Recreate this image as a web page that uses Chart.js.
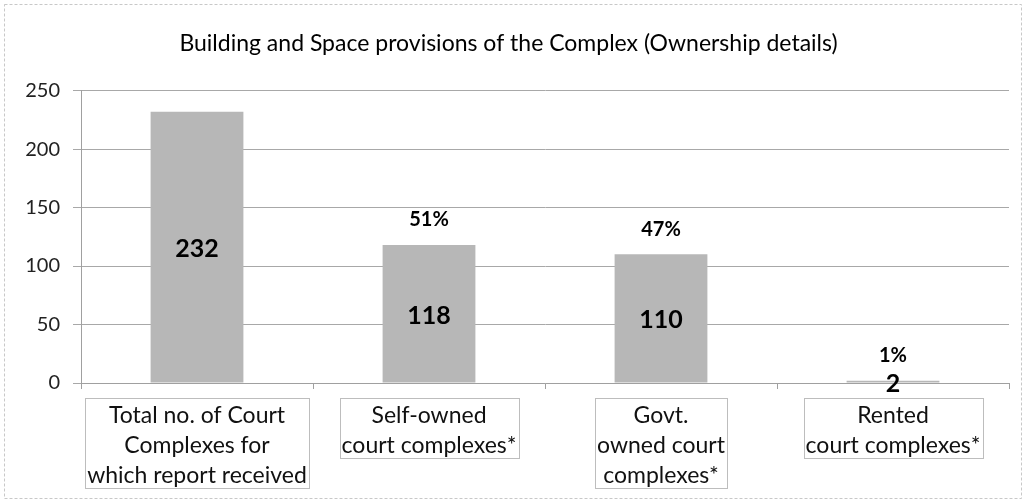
<!DOCTYPE html>
<html>
<head>
<meta charset="utf-8">
<script src="https://cdn.jsdelivr.net/npm/chart.js@4.4.1/dist/chart.umd.min.js"></script>
<style>
  html, body { margin: 0; padding: 0; background: #fff; }
  #wrap { width: 1026px; height: 503px; position: relative; }
</style>
</head>
<body>
<div id="wrap"><canvas id="c" width="1026" height="503"></canvas></div>
<script>
const chartTitle = "Building and Space provisions of the Complex (Ownership details)";
const categories = [
  ["Total no. of Court", "Complexes for", "which report received"],
  ["Self-owned", "court complexes*"],
  ["Govt.", "owned court", "complexes*"],
  ["Rented", "court complexes*"]
];
const counts = [232, 118, 110, 2];
const shareLabels = ["", "51%", "47%", "1%"];
const yTicks = [0, 50, 100, 150, 200, 250];

const FONT = "Lato, 'Open Sans', 'DejaVu Sans', sans-serif";
const CAT_FONT_SIZE = 23;

const frame = {
  id: 'frame',
  beforeDraw(chart) {
    const ctx = chart.ctx;
    ctx.save();
    ctx.fillStyle = '#fff';
    ctx.fillRect(0, 0, chart.width, chart.height);
    ctx.strokeStyle = '#c8c8c8';
    ctx.lineWidth = 1;
    ctx.setLineDash([3, 2]);
    ctx.strokeRect(4.5, 4.5, chart.width - 9, chart.height - 9);
    ctx.restore();
  }
};

const labelBoxes = {
  id: 'labelBoxes',
  afterDraw(chart) {
    const ctx = chart.ctx;
    const xs = chart.scales.x;
    const top = xs.top + 15;
    const lineH = 30;
    ctx.save();
    ctx.font = CAT_FONT_SIZE + "px " + FONT;
    ctx.strokeStyle = '#bdbdbd';
    ctx.lineWidth = 1;
    categories.forEach((lines, i) => {
      const cx = xs.getPixelForValue(i);
      let w = 0;
      lines.forEach(l => { w = Math.max(w, ctx.measureText(l).width); });
      const pad = 2;
      const h = lines.length * lineH;
      ctx.strokeRect(Math.round(cx - w / 2 - pad) + 0.5, Math.round(top) + 0.5, Math.round(w + 2 * pad), h);
    });
    ctx.restore();
  }
};

const valueLabels = {
  id: 'valueLabels',
  afterDatasetsDraw(chart) {
    const ctx = chart.ctx;
    const meta = chart.getDatasetMeta(0);
    ctx.save();
    ctx.textAlign = 'center';
    ctx.textBaseline = 'middle';
    ctx.fillStyle = '#000';
    meta.data.forEach((bar, i) => {
      const mid = (bar.y + bar.base) / 2;
      ctx.font = "bold 25px " + FONT;
      ctx.fillText(String(counts[i]), bar.x, mid + 2);
      if (shareLabels[i]) {
        ctx.font = "bold 20px " + FONT;
        ctx.fillText(shareLabels[i], bar.x, bar.y - 25);
      }
    });
    ctx.restore();
  }
};

new Chart(document.getElementById('c'), {
  type: 'bar',
  data: {
    labels: categories,
    datasets: [{
      data: counts,
      backgroundColor: '#b7b7b7',
      borderWidth: 0,
      categoryPercentage: 1.0,
      barPercentage: 0.4
    }]
  },
  options: {
    responsive: false,
    animation: false,
    devicePixelRatio: 1,
    layout: { padding: { left: 8, right: 17, top: 0, bottom: 0 } },
    plugins: {
      legend: { display: false },
      tooltip: { enabled: false },
      title: {
        display: true,
        text: chartTitle,
        color: '#000',
        font: { family: FONT, size: 23, weight: 'normal' },
        padding: { top: 30, bottom: 33 }
      }
    },
    scales: {
      y: {
        min: 0,
        max: 250,
        afterFit(scale) { scale.width = 73; },
        afterBuildTicks(scale) { scale.ticks = yTicks.map(v => ({ value: v })); },
        ticks: {
          color: '#222',
          font: { family: FONT, size: 20 },
          padding: 13
        },
        grid: { color: '#a8a8a8', lineWidth: 1, tickLength: 8 },
        border: { display: true, color: '#a0a0a0' }
      },
      x: {
        afterFit(scale) { scale.height = 120; },
        ticks: {
          color: '#111',
          font: { family: FONT, size: CAT_FONT_SIZE, lineHeight: '30px' },
          padding: 12,
          maxRotation: 0,
          autoSkip: false
        },
        grid: { display: true, drawOnChartArea: false, offset: true, tickLength: 6, color: '#a0a0a0' },
        border: { display: true, color: '#a0a0a0' }
      }
    }
  },
  plugins: [frame, valueLabels, labelBoxes]
});
</script>
</body>
</html>
